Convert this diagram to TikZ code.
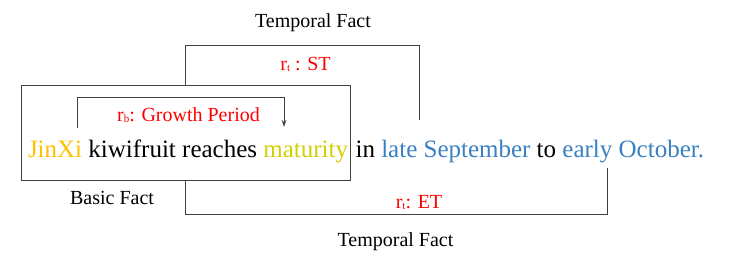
\documentclass[tikz,border=0pt]{standalone}
\usepackage{fontspec}
\setmainfont{Liberation Serif}
\usetikzlibrary{positioning,arrows.meta}
\definecolor{cgold}{HTML}{FFC000}
\definecolor{cyel}{HTML}{D4CF00}
\definecolor{cblue}{HTML}{3A80C2}
\definecolor{cline}{HTML}{404040}
\tikzset{
  word/.style={inner sep=0pt, outer sep=0pt, anchor=base west, font=\fontsize{25}{30}\selectfont},
  lbl/.style={inner sep=0pt, anchor=base, font=\fontsize{20}{24}\selectfont},
  rel/.style={lbl, text=red},
  conn/.style={draw=cline, line width=1pt},
}
\newcommand{\sbs}[1]{{\fontsize{11}{11}\selectfont\raisebox{-1.5pt}{#1}}}
\begin{document}
\begin{tikzpicture}[x=1pt,y=-1pt]
\useasboundingbox (0,0) rectangle (729,263);
% basic fact box
\node[draw=cline, line width=1pt, minimum width=329pt, minimum height=95pt, inner sep=0pt] (box) at (185.5,132.5) {};
% sentence
\node[word, text=cgold] (w1) at (28,157) {JinXi};
\node[word, base right=6.25pt of w1] (w2) {kiwifruit reaches};
\node[word, text=cyel, base right=6.25pt of w2] (w3) {maturity};
\node[word, base right=7.5pt of w3] (w4) {in};
\node[word, text=cblue, base right=6.25pt of w4] (w5) {late September};
\node[word, base right=6.25pt of w5] (w6) {to};
\node[word, text=cblue, base right=6.25pt of w6] (w7) {early October.};
% labels
\node[lbl] (tf1) at (313,27) {Temporal Fact};
\node[lbl] (tf2) at (395.5,246) {Temporal Fact};
\node[lbl] (bf) at (112,204) {Basic Fact};
\node[rel] (st) at (305.5,70) {r\sbs{t} : ST};
\node[rel] (et) at (419,208) {r\sbs{t}: ET};
\node[rel] (gp) at (188.5,121) {r\sbs{b}: Growth Period};
% connector coordinates
\coordinate (stA) at (box.north -| 185.5,0);
\coordinate (stB) at (419,120);
\coordinate (etA) at (box.south -| 185.5,0);
\coordinate (etB) at (607.5,168);
\coordinate (gpA) at (77,128);
\coordinate (gpB) at (284,127);
% connectors
\draw[conn] (stA) |- (185.5,45) -| (stB);
\draw[conn] (etA) |- (607.5,214.5) -- (etB);
\draw[conn, -{Stealth[length=7pt,width=4.5pt]}] (gpA) |- (284,97.5) -- (gpB);
\end{tikzpicture}
\end{document}
